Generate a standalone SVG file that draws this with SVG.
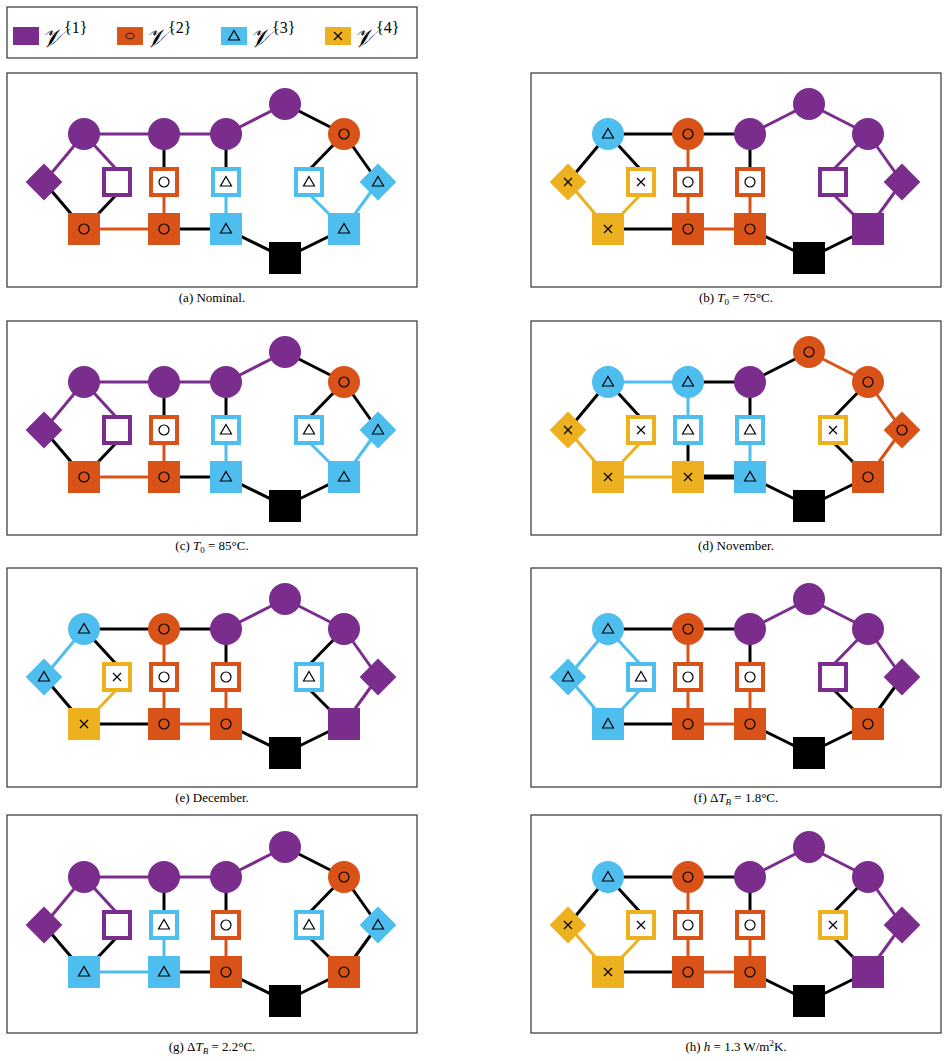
<svg xmlns="http://www.w3.org/2000/svg" xmlns:xlink="http://www.w3.org/1999/xlink" width="948" height="1061" viewBox="0 0 948 1061">
<style>
.e0{stroke:#000}.e1{stroke:#7B2D8E}.e2{stroke:#D95319}.e3{stroke:#4DBEEE}.e4{stroke:#EDB120}
.ln{stroke-width:3;fill:none}
.f1{fill:#7B2D8E}.f2{fill:#D95319}.f3{fill:#4DBEEE}.f4{fill:#EDB120}
.h1{fill:#fff;stroke:#7B2D8E;stroke-width:4}.h2{fill:#fff;stroke:#D95319;stroke-width:4}.h3{fill:#fff;stroke:#4DBEEE;stroke-width:4}.h4{fill:#fff;stroke:#EDB120;stroke-width:4}
.mk{fill:none;stroke:#000;stroke-width:1.2}
.frame{fill:#fff;stroke:#333;stroke-width:1.2}
.cap{font-family:"Liberation Serif",serif;font-size:13px;text-anchor:middle}
.lg{font-family:"DejaVu Serif","Liberation Serif",serif;font-size:26px;font-style:italic}
.sup{font-family:"Liberation Serif",serif;font-size:16px}
</style>
<defs>
<circle id="m2" class="mk" r="5"/>
<path id="m3" class="mk" d="M0,-5.5L5.5,4L-5.5,4Z"/>
<path id="m4" class="mk" d="M-4,-4L4,4M4,-4L-4,4"/>
<g id="c1"><circle r="16" class="f1"/></g>
<g id="c2"><circle r="16" class="f2"/><use href="#m2"/></g>
<g id="c3"><circle r="16" class="f3"/><use href="#m3"/></g>
<g id="c4"><circle r="16" class="f4"/><use href="#m4"/></g>
<g id="s0"><rect x="-16" y="-16" width="32" height="32" fill="#000"/></g>
<g id="s1"><rect x="-16" y="-16" width="32" height="32" class="f1"/></g>
<g id="s2"><rect x="-16" y="-16" width="32" height="32" class="f2"/><use href="#m2"/></g>
<g id="s3"><rect x="-16" y="-16" width="32" height="32" class="f3"/><use href="#m3"/></g>
<g id="s4"><rect x="-16" y="-16" width="32" height="32" class="f4"/><use href="#m4"/></g>
<g id="h1"><rect x="-13" y="-13" width="26" height="26" class="h1"/></g>
<g id="h2"><rect x="-13" y="-13" width="26" height="26" class="h2"/><use href="#m2"/></g>
<g id="h3"><rect x="-13" y="-13" width="26" height="26" class="h3"/><use href="#m3"/></g>
<g id="h4"><rect x="-13" y="-13" width="26" height="26" class="h4"/><use href="#m4"/></g>
<g id="d1"><rect x="-13" y="-13" width="26" height="26" class="f1" transform="rotate(45)"/></g>
<g id="d2"><rect x="-13" y="-13" width="26" height="26" class="f2" transform="rotate(45)"/><use href="#m2"/></g>
<g id="d3"><rect x="-13" y="-13" width="26" height="26" class="f3" transform="rotate(45)"/><use href="#m3"/></g>
<g id="d4"><rect x="-13" y="-13" width="26" height="26" class="f4" transform="rotate(45)"/><use href="#m4"/></g>
<line id="AB" x1="84" y1="134" x2="164" y2="134"/>
<line id="BC" x1="164" y1="134" x2="226" y2="134"/>
<line id="CD" x1="226" y1="134" x2="285" y2="104"/>
<line id="DE" x1="285" y1="104" x2="344" y2="134"/>
<line id="AF" x1="84" y1="134" x2="44" y2="182"/>
<line id="AG" x1="84" y1="134" x2="117" y2="170"/>
<line id="BH" x1="164" y1="134" x2="164" y2="182"/>
<line id="CI" x1="226" y1="134" x2="226" y2="182"/>
<line id="EJ" x1="344" y1="134" x2="309" y2="170"/>
<line id="EK" x1="344" y1="134" x2="378" y2="182"/>
<line id="FL" x1="44" y1="182" x2="84" y2="229"/>
<line id="GL" x1="117" y1="194" x2="84" y2="229"/>
<line id="HM" x1="164" y1="182" x2="164" y2="229"/>
<line id="IN" x1="226" y1="182" x2="226" y2="229"/>
<line id="JP" x1="309" y1="194" x2="344" y2="229"/>
<line id="KP" x1="378" y1="182" x2="344" y2="229"/>
<line id="LM" x1="84" y1="229" x2="164" y2="229"/>
<line id="MN" x1="164" y1="229" x2="226" y2="229"/>
<line id="NO" x1="226" y1="229" x2="285" y2="258"/>
<line id="OP" x1="285" y1="258" x2="344" y2="229"/>
</defs>
<rect width="948" height="1061" fill="#fff"/>

<g id="legend">
<rect class="frame" x="7" y="7" width="410" height="51"/>
<rect class="f1" x="13" y="27" width="26" height="18"/>
<text class="lg" x="41" y="47">𝒱</text><text class="sup" x="64" y="33">{1}</text>
<g transform="translate(104,0)"><use href="#s2" x="0" y="0" transform="translate(26,36) scale(0.81,0.56)"/></g>
<text class="lg" x="145" y="47">𝒱</text><text class="sup" x="168" y="33">{2}</text>
<g transform="translate(208,0)"><rect class="f3" x="13" y="27" width="26" height="18"/><use href="#m3" x="26" y="36"/></g>
<text class="lg" x="249" y="47">𝒱</text><text class="sup" x="272" y="33">{3}</text>
<g transform="translate(312,0)"><rect class="f4" x="13" y="27" width="26" height="18"/><use href="#m4" x="26" y="36"/></g>
<text class="lg" x="353" y="47">𝒱</text><text class="sup" x="376" y="33">{4}</text>
</g>

<!-- (a) -->
<g id="panel-a">
<rect class="frame" x="7" y="73" width="410" height="214"/>
<g id="a-connectors" class="ln">
<use href="#AB" class="e1"/><use href="#BC" class="e1"/><use href="#CD" class="e1"/><use href="#DE" class="e0"/><use href="#AF" class="e1"/><use href="#AG" class="e1"/><use href="#BH" class="e0"/><use href="#CI" class="e0"/><use href="#EJ" class="e0"/><use href="#EK" class="e0"/><use href="#FL" class="e0"/><use href="#GL" class="e0"/><use href="#HM" class="e2"/><use href="#IN" class="e3"/><use href="#JP" class="e3"/><use href="#KP" class="e3"/><use href="#LM" class="e2"/><use href="#MN" class="e0"/><use href="#NO" class="e0"/><use href="#OP" class="e0"/>
</g>
<g id="a-A"><use href="#c1" x="84" y="134"/></g><g id="a-B"><use href="#c1" x="164" y="134"/></g><g id="a-C"><use href="#c1" x="226" y="134"/></g><g id="a-D"><use href="#c1" x="285" y="104"/></g><g id="a-E"><use href="#c2" x="344" y="134"/></g>
<g id="a-F"><use href="#d1" x="44" y="182"/></g><g id="a-G"><use href="#h1" x="117" y="182"/></g><g id="a-H"><use href="#h2" x="164" y="182"/></g><g id="a-I"><use href="#h3" x="226" y="182"/></g><g id="a-J"><use href="#h3" x="309" y="182"/></g><g id="a-K"><use href="#d3" x="378" y="182"/></g>
<g id="a-L"><use href="#s2" x="84" y="229"/></g><g id="a-M"><use href="#s2" x="164" y="229"/></g><g id="a-N"><use href="#s3" x="226" y="229"/></g><g id="a-O"><use href="#s0" x="285" y="258"/></g><g id="a-P"><use href="#s3" x="344" y="229"/></g>
<text class="cap" x="212" y="302">(a) Nominal.</text>
</g>

<!-- (b) -->
<g id="panel-b" transform="translate(524,0)">
<rect class="frame" x="7" y="73" width="410" height="214"/>
<g id="b-connectors" class="ln">
<use href="#AB" class="e0"/><use href="#BC" class="e0"/><use href="#CD" class="e1"/><use href="#DE" class="e1"/><use href="#AF" class="e0"/><use href="#AG" class="e0"/><use href="#BH" class="e2"/><use href="#CI" class="e0"/><use href="#EJ" class="e1"/><use href="#EK" class="e1"/><use href="#FL" class="e4"/><use href="#GL" class="e4"/><use href="#HM" class="e2"/><use href="#IN" class="e2"/><use href="#JP" class="e1"/><use href="#KP" class="e1"/><use href="#LM" class="e0"/><use href="#MN" class="e2"/><use href="#NO" class="e0"/><use href="#OP" class="e0"/>
</g>
<g id="b-A"><use href="#c3" x="84" y="134"/></g><g id="b-B"><use href="#c2" x="164" y="134"/></g><g id="b-C"><use href="#c1" x="226" y="134"/></g><g id="b-D"><use href="#c1" x="285" y="104"/></g><g id="b-E"><use href="#c1" x="344" y="134"/></g>
<g id="b-F"><use href="#d4" x="44" y="182"/></g><g id="b-G"><use href="#h4" x="117" y="182"/></g><g id="b-H"><use href="#h2" x="164" y="182"/></g><g id="b-I"><use href="#h2" x="226" y="182"/></g><g id="b-J"><use href="#h1" x="309" y="182"/></g><g id="b-K"><use href="#d1" x="378" y="182"/></g>
<g id="b-L"><use href="#s4" x="84" y="229"/></g><g id="b-M"><use href="#s2" x="164" y="229"/></g><g id="b-N"><use href="#s2" x="226" y="229"/></g><g id="b-O"><use href="#s0" x="285" y="258"/></g><g id="b-P"><use href="#s1" x="344" y="229"/></g>
<text class="cap" x="212" y="302">(b) <tspan font-style="italic">T</tspan><tspan font-size="9" dy="3">0</tspan><tspan dy="-3"> = 75°C.</tspan></text>
</g>

<!-- (c) -->
<g id="panel-c" transform="translate(0,248)">
<rect class="frame" x="7" y="73" width="410" height="214"/>
<g id="c-connectors" class="ln">
<use href="#AB" class="e1"/><use href="#BC" class="e1"/><use href="#CD" class="e1"/><use href="#DE" class="e0"/><use href="#AF" class="e1"/><use href="#AG" class="e1"/><use href="#BH" class="e0"/><use href="#CI" class="e0"/><use href="#EJ" class="e0"/><use href="#EK" class="e0"/><use href="#FL" class="e0"/><use href="#GL" class="e0"/><use href="#HM" class="e2"/><use href="#IN" class="e3"/><use href="#JP" class="e3"/><use href="#KP" class="e3"/><use href="#LM" class="e2"/><use href="#MN" class="e0"/><use href="#NO" class="e0"/><use href="#OP" class="e0"/>
</g>
<g id="c-A"><use href="#c1" x="84" y="134"/></g><g id="c-B"><use href="#c1" x="164" y="134"/></g><g id="c-C"><use href="#c1" x="226" y="134"/></g><g id="c-D"><use href="#c1" x="285" y="104"/></g><g id="c-E"><use href="#c2" x="344" y="134"/></g>
<g id="c-F"><use href="#d1" x="44" y="182"/></g><g id="c-G"><use href="#h1" x="117" y="182"/></g><g id="c-H"><use href="#h2" x="164" y="182"/></g><g id="c-I"><use href="#h3" x="226" y="182"/></g><g id="c-J"><use href="#h3" x="309" y="182"/></g><g id="c-K"><use href="#d3" x="378" y="182"/></g>
<g id="c-L"><use href="#s2" x="84" y="229"/></g><g id="c-M"><use href="#s2" x="164" y="229"/></g><g id="c-N"><use href="#s3" x="226" y="229"/></g><g id="c-O"><use href="#s0" x="285" y="258"/></g><g id="c-P"><use href="#s3" x="344" y="229"/></g>
<text class="cap" x="212" y="302">(c) <tspan font-style="italic">T</tspan><tspan font-size="9" dy="3">0</tspan><tspan dy="-3"> = 85°C.</tspan></text>
</g>

<!-- (d) -->
<g id="panel-d" transform="translate(524,248)">
<rect class="frame" x="7" y="73" width="410" height="214"/>
<g id="d-connectors" class="ln">
<use href="#AB" class="e3"/><use href="#BC" class="e0"/><use href="#CD" class="e0"/><use href="#DE" class="e2"/><use href="#AF" class="e0"/><use href="#AG" class="e0"/><use href="#BH" class="e3"/><use href="#CI" class="e0"/><use href="#EJ" class="e0"/><use href="#EK" class="e2"/><use href="#FL" class="e4"/><use href="#GL" class="e4"/><use href="#HM" class="e0"/><use href="#IN" class="e3"/><use href="#JP" class="e0"/><use href="#KP" class="e2"/><use href="#LM" class="e4"/><use href="#MN" class="e0" stroke-width="5"/><use href="#NO" class="e0"/><use href="#OP" class="e0"/>
</g>
<g id="d-A"><use href="#c3" x="84" y="134"/></g><g id="d-B"><use href="#c3" x="164" y="134"/></g><g id="d-C"><use href="#c1" x="226" y="134"/></g><g id="d-D"><use href="#c2" x="285" y="104"/></g><g id="d-E"><use href="#c2" x="344" y="134"/></g>
<g id="d-F"><use href="#d4" x="44" y="182"/></g><g id="d-G"><use href="#h4" x="117" y="182"/></g><g id="d-H"><use href="#h3" x="164" y="182"/></g><g id="d-I"><use href="#h3" x="226" y="182"/></g><g id="d-J"><use href="#h4" x="309" y="182"/></g><g id="d-K"><use href="#d2" x="378" y="182"/></g>
<g id="d-L"><use href="#s4" x="84" y="229"/></g><g id="d-M"><use href="#s4" x="164" y="229"/></g><g id="d-N"><use href="#s3" x="226" y="229"/></g><g id="d-O"><use href="#s0" x="285" y="258"/></g><g id="d-P"><use href="#s2" x="344" y="229"/></g>
<text class="cap" x="212" y="302">(d) November.</text>
</g>

<!-- (e) -->
<g id="panel-e" transform="translate(0,495)">
<rect class="frame" x="7" y="73" width="410" height="219"/>
<g id="e-connectors" class="ln">
<use href="#AB" class="e0"/><use href="#BC" class="e0"/><use href="#CD" class="e1"/><use href="#DE" class="e1"/><use href="#AF" class="e3"/><use href="#AG" class="e0"/><use href="#BH" class="e2"/><use href="#CI" class="e0"/><use href="#EJ" class="e0"/><use href="#EK" class="e1"/><use href="#FL" class="e0"/><use href="#GL" class="e4"/><use href="#HM" class="e2"/><use href="#IN" class="e2"/><use href="#JP" class="e0"/><use href="#KP" class="e1"/><use href="#LM" class="e0"/><use href="#MN" class="e2"/><use href="#NO" class="e0"/><use href="#OP" class="e0"/>
</g>
<g id="e-A"><use href="#c3" x="84" y="134"/></g><g id="e-B"><use href="#c2" x="164" y="134"/></g><g id="e-C"><use href="#c1" x="226" y="134"/></g><g id="e-D"><use href="#c1" x="285" y="104"/></g><g id="e-E"><use href="#c1" x="344" y="134"/></g>
<g id="e-F"><use href="#d3" x="44" y="182"/></g><g id="e-G"><use href="#h4" x="117" y="182"/></g><g id="e-H"><use href="#h2" x="164" y="182"/></g><g id="e-I"><use href="#h2" x="226" y="182"/></g><g id="e-J"><use href="#h3" x="309" y="182"/></g><g id="e-K"><use href="#d1" x="378" y="182"/></g>
<g id="e-L"><use href="#s4" x="84" y="229"/></g><g id="e-M"><use href="#s2" x="164" y="229"/></g><g id="e-N"><use href="#s2" x="226" y="229"/></g><g id="e-O"><use href="#s0" x="285" y="258"/></g><g id="e-P"><use href="#s1" x="344" y="229"/></g>
<text class="cap" x="212" y="307">(e) December.</text>
</g>

<!-- (f) -->
<g id="panel-f" transform="translate(524,495)">
<rect class="frame" x="7" y="73" width="410" height="219"/>
<g id="f-connectors" class="ln">
<use href="#AB" class="e0"/><use href="#BC" class="e0"/><use href="#CD" class="e1"/><use href="#DE" class="e1"/><use href="#AF" class="e3"/><use href="#AG" class="e3"/><use href="#BH" class="e2"/><use href="#CI" class="e0"/><use href="#EJ" class="e1"/><use href="#EK" class="e1"/><use href="#FL" class="e3"/><use href="#GL" class="e3"/><use href="#HM" class="e2"/><use href="#IN" class="e2"/><use href="#JP" class="e0"/><use href="#KP" class="e0"/><use href="#LM" class="e0"/><use href="#MN" class="e2"/><use href="#NO" class="e0"/><use href="#OP" class="e0"/>
</g>
<g id="f-A"><use href="#c3" x="84" y="134"/></g><g id="f-B"><use href="#c2" x="164" y="134"/></g><g id="f-C"><use href="#c1" x="226" y="134"/></g><g id="f-D"><use href="#c1" x="285" y="104"/></g><g id="f-E"><use href="#c1" x="344" y="134"/></g>
<g id="f-F"><use href="#d3" x="44" y="182"/></g><g id="f-G"><use href="#h3" x="117" y="182"/></g><g id="f-H"><use href="#h2" x="164" y="182"/></g><g id="f-I"><use href="#h2" x="226" y="182"/></g><g id="f-J"><use href="#h1" x="309" y="182"/></g><g id="f-K"><use href="#d1" x="378" y="182"/></g>
<g id="f-L"><use href="#s3" x="84" y="229"/></g><g id="f-M"><use href="#s2" x="164" y="229"/></g><g id="f-N"><use href="#s2" x="226" y="229"/></g><g id="f-O"><use href="#s0" x="285" y="258"/></g><g id="f-P"><use href="#s2" x="344" y="229"/></g>
<text class="cap" x="212" y="307">(f) Δ<tspan font-style="italic">T</tspan><tspan font-size="9" dy="3" font-style="italic">B</tspan><tspan dy="-3"> = 1.8°C.</tspan></text>
</g>

<!-- (g) -->
<g id="panel-g" transform="translate(0,743)">
<rect class="frame" x="7" y="72" width="410" height="218"/>
<g id="g-connectors" class="ln">
<use href="#AB" class="e1"/><use href="#BC" class="e1"/><use href="#CD" class="e1"/><use href="#DE" class="e0"/><use href="#AF" class="e1"/><use href="#AG" class="e1"/><use href="#BH" class="e0"/><use href="#CI" class="e0"/><use href="#EJ" class="e0"/><use href="#EK" class="e0"/><use href="#FL" class="e0"/><use href="#GL" class="e0"/><use href="#HM" class="e3"/><use href="#IN" class="e2"/><use href="#JP" class="e0"/><use href="#KP" class="e0"/><use href="#LM" class="e3"/><use href="#MN" class="e0"/><use href="#NO" class="e0"/><use href="#OP" class="e0"/>
</g>
<g id="g-A"><use href="#c1" x="84" y="134"/></g><g id="g-B"><use href="#c1" x="164" y="134"/></g><g id="g-C"><use href="#c1" x="226" y="134"/></g><g id="g-D"><use href="#c1" x="285" y="104"/></g><g id="g-E"><use href="#c2" x="344" y="134"/></g>
<g id="g-F"><use href="#d1" x="44" y="182"/></g><g id="g-G"><use href="#h1" x="117" y="182"/></g><g id="g-H"><use href="#h3" x="164" y="182"/></g><g id="g-I"><use href="#h2" x="226" y="182"/></g><g id="g-J"><use href="#h3" x="309" y="182"/></g><g id="g-K"><use href="#d3" x="378" y="182"/></g>
<g id="g-L"><use href="#s3" x="84" y="229"/></g><g id="g-M"><use href="#s3" x="164" y="229"/></g><g id="g-N"><use href="#s2" x="226" y="229"/></g><g id="g-O"><use href="#s0" x="285" y="258"/></g><g id="g-P"><use href="#s2" x="344" y="229"/></g>
<text class="cap" x="212" y="308">(g) Δ<tspan font-style="italic">T</tspan><tspan font-size="9" dy="3" font-style="italic">B</tspan><tspan dy="-3"> = 2.2°C.</tspan></text>
</g>

<!-- (h) -->
<g id="panel-h" transform="translate(524,743)">
<rect class="frame" x="7" y="72" width="410" height="218"/>
<g id="h-connectors" class="ln">
<use href="#AB" class="e0"/><use href="#BC" class="e0"/><use href="#CD" class="e1"/><use href="#DE" class="e1"/><use href="#AF" class="e0"/><use href="#AG" class="e0"/><use href="#BH" class="e2"/><use href="#CI" class="e0"/><use href="#EJ" class="e0"/><use href="#EK" class="e1"/><use href="#FL" class="e4"/><use href="#GL" class="e4"/><use href="#HM" class="e2"/><use href="#IN" class="e2"/><use href="#JP" class="e0"/><use href="#KP" class="e1"/><use href="#LM" class="e0"/><use href="#MN" class="e2"/><use href="#NO" class="e0"/><use href="#OP" class="e0"/>
</g>
<g id="h-A"><use href="#c3" x="84" y="134"/></g><g id="h-B"><use href="#c2" x="164" y="134"/></g><g id="h-C"><use href="#c1" x="226" y="134"/></g><g id="h-D"><use href="#c1" x="285" y="104"/></g><g id="h-E"><use href="#c1" x="344" y="134"/></g>
<g id="h-F"><use href="#d4" x="44" y="182"/></g><g id="h-G"><use href="#h4" x="117" y="182"/></g><g id="h-H"><use href="#h2" x="164" y="182"/></g><g id="h-I"><use href="#h2" x="226" y="182"/></g><g id="h-J"><use href="#h4" x="309" y="182"/></g><g id="h-K"><use href="#d1" x="378" y="182"/></g>
<g id="h-L"><use href="#s4" x="84" y="229"/></g><g id="h-M"><use href="#s2" x="164" y="229"/></g><g id="h-N"><use href="#s2" x="226" y="229"/></g><g id="h-O"><use href="#s0" x="285" y="258"/></g><g id="h-P"><use href="#s1" x="344" y="229"/></g>
<text class="cap" x="212" y="308">(h) <tspan font-style="italic">h</tspan> = 1.3 W/m<tspan font-size="9" dy="-5">2</tspan><tspan dy="5">K.</tspan></text>
</g>
</svg>
